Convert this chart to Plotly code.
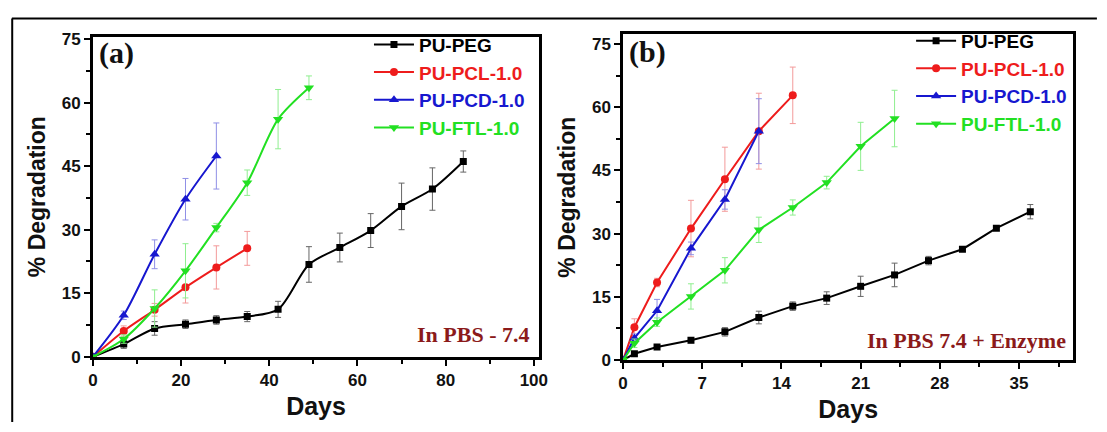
import plotly.graph_objects as go

# ---------------- Data: panel (a) In PBS - 7.4 ----------------
a_peg_x = [0, 7, 14, 21, 28, 35, 42, 49, 56, 63, 70, 77, 84]
a_peg_y = [0, 3.0, 6.7, 7.7, 8.7, 9.5, 11.2, 21.8, 25.8, 29.8, 35.5, 39.6, 46.1]
a_peg_e = [0, 1.0, 1.6, 1.0, 1.0, 1.2, 1.9, 4.2, 3.4, 4.0, 5.5, 5.0, 2.5]

a_pcl_x = [0, 7, 14, 21, 28, 35]
a_pcl_y = [0, 6.1, 11.1, 16.4, 21.1, 25.6]
a_pcl_e = [0, 1.2, 1.5, 3.7, 5.1, 4.0]

a_pcd_x = [0, 7, 14, 21, 28]
a_pcd_y = [0, 9.8, 24.2, 37.2, 47.4]
a_pcd_e = [0, 1.0, 3.4, 4.9, 7.8]

a_ftl_x = [0, 7, 14, 21, 28, 35, 42, 49]
a_ftl_y = [0, 4.2, 11.4, 20.3, 30.5, 41.1, 56.1, 63.5]
a_ftl_e = [0, 1.0, 4.4, 6.4, 1.0, 3.0, 7.0, 2.8]

# ---------------- Data: panel (b) In PBS 7.4 + Enzyme ----------------
b_peg_x = [0, 1, 3, 6, 9, 12, 15, 18, 21, 24, 27, 30, 33, 36]
b_peg_y = [0, 1.5, 3.1, 4.7, 6.7, 10.1, 12.8, 14.7, 17.5, 20.2, 23.6, 26.3, 31.3, 35.2]
b_peg_e = [0, 0.5, 0.6, 0.6, 1.0, 1.5, 1.0, 1.5, 2.4, 2.8, 1.0, 0.5, 0.5, 1.7]

b_pcl_x = [0, 1, 3, 6, 9, 12, 15]
b_pcl_y = [0, 7.8, 18.4, 31.2, 42.9, 54.3, 62.8]
b_pcl_e = [0, 2.0, 1.0, 6.7, 7.6, 9.0, 6.7]

b_pcd_x = [0, 1, 3, 6, 9, 12]
b_pcd_y = [0, 5.2, 11.7, 26.5, 38.1, 54.3]
b_pcd_e = [0, 1.0, 2.7, 1.5, 2.3, 7.7]

b_ftl_x = [0, 1, 3, 6, 9, 12, 15, 18, 21, 24]
b_ftl_y = [0, 4.0, 9.0, 15.1, 21.3, 30.9, 36.2, 42.1, 50.7, 57.3]
b_ftl_e = [0, 1.0, 1.0, 3.0, 3.0, 3.0, 1.8, 1.5, 5.7, 6.7]

names = ["PU-PEG", "PU-PCL-1.0", "PU-PCD-1.0", "PU-FTL-1.0"]
colors = ["#000000", "#ee1c1c", "#1717cf", "#22e022"]
err_colors = ["#666666", "#f39a9a", "#8f8fe6", "#8fee8f"]
symbols = ["square", "circle", "triangle-up", "triangle-down"]
msizes = [7, 8, 9, 9]

panel_a = [(a_peg_x, a_peg_y, a_peg_e), (a_pcl_x, a_pcl_y, a_pcl_e),
           (a_pcd_x, a_pcd_y, a_pcd_e), (a_ftl_x, a_ftl_y, a_ftl_e)]
panel_b = [(b_peg_x, b_peg_y, b_peg_e), (b_pcl_x, b_pcl_y, b_pcl_e),
           (b_pcd_x, b_pcd_y, b_pcd_e), (b_ftl_x, b_ftl_y, b_ftl_e)]

fig = go.Figure()

for i, (x, y, e) in enumerate(panel_a):
    fig.add_trace(go.Scatter(
        x=x, y=y, mode="lines+markers", xaxis="x", yaxis="y",
        name=f"<span style='color:{colors[i]}'>{names[i]}</span>",
        legend="legend",
        line=dict(color=colors[i], width=2, shape="spline", smoothing=0.8),
        marker=dict(color=colors[i], symbol=symbols[i], size=msizes[i]),
        error_y=dict(type="data", array=e, color=err_colors[i], thickness=1, width=3),
    ))

for i, (x, y, e) in enumerate(panel_b):
    fig.add_trace(go.Scatter(
        x=x, y=y, mode="lines+markers", xaxis="x2", yaxis="y2",
        name=f"<span style='color:{colors[i]}'>{names[i]}</span>",
        legend="legend2",
        line=dict(color=colors[i], width=2),
        marker=dict(color=colors[i], symbol=symbols[i], size=msizes[i]),
        error_y=dict(type="data", array=e, color=err_colors[i], thickness=1, width=3),
    ))

tickfont = dict(family="Liberation Sans, Arial", size=17, color="#111111", weight="bold")
xtitlefont = dict(family="Liberation Sans, Arial", size=25, color="#111111", weight="bold")
ytitlefont = dict(family="Liberation Sans, Arial", size=23, color="#111111", weight="bold")

def xaxis(domain, rng, dtick, anchor):
    return dict(domain=domain, range=rng, anchor=anchor, dtick=dtick, tick0=0,
                showgrid=False, zeroline=False, showline=True, linewidth=2.5,
                linecolor="black", mirror=True, ticks="outside", ticklen=6,
                tickwidth=2, tickcolor="black", tickfont=tickfont,
                minor=dict(ticks="outside", ticklen=4, tickwidth=2, tickcolor="black",
                           dtick=dtick / 2, showgrid=False),
                title=dict(text="Days", font=xtitlefont, standoff=9))

def yaxis(domain, rng, anchor):
    return dict(domain=domain, range=rng, anchor=anchor, dtick=15, tick0=0,
                showgrid=False, zeroline=False, showline=True, linewidth=2.5,
                linecolor="black", mirror=True, ticks="outside", ticklen=6,
                tickwidth=2, tickcolor="black", tickfont=tickfont,
                minor=dict(ticks="outside", ticklen=4, tickwidth=2, tickcolor="black",
                           dtick=7.5, showgrid=False),
                title=dict(text="% Degradation", font=ytitlefont, standoff=10))

legfont = dict(family="Liberation Sans, Arial", size=19, color="#111111", weight="bold")

fig.update_layout(
    width=1107, height=432, autosize=False,
    margin=dict(l=0, r=0, t=0, b=0),
    paper_bgcolor="white", plot_bgcolor="white",
    xaxis=xaxis([0.0804, 0.4887], [0, 101.2], 20, "y"),
    yaxis=yaxis([0.1567, 0.9266], [0, 75.6], "x"),
    xaxis2=xaxis([0.5655, 0.9774], [0, 39.8], 7, "y2"),
    yaxis2=yaxis([0.1488, 0.9322], [0, 77.3], "x2"),
    legend=dict(x=0.333, y=0.953, xanchor="left", yanchor="top",
                bgcolor="rgba(0,0,0,0)", font=legfont, itemwidth=40,
                tracegroupgap=0),
    legend2=dict(x=0.829, y=0.962, xanchor="left", yanchor="top",
                 bgcolor="rgba(0,0,0,0)", font=legfont, itemwidth=40,
                 tracegroupgap=0),
    font=dict(family="Liberation Sans, Arial"),
    annotations=[
        dict(text="<b>(a)</b>", x=0.0845, y=0.886, xref="paper", yref="paper",
             xanchor="left", yanchor="middle", showarrow=False,
             font=dict(family="Liberation Serif, Times New Roman", size=30, color="#111111")),
        dict(text="<b>(b)</b>", x=0.569, y=0.89, xref="paper", yref="paper",
             xanchor="left", yanchor="middle", showarrow=False,
             font=dict(family="Liberation Serif, Times New Roman", size=30, color="#111111")),
        dict(text="<b>In PBS - 7.4</b>", x=0.481, y=0.21, xref="paper", yref="paper",
             xanchor="right", yanchor="middle", showarrow=False,
             font=dict(family="Liberation Serif, Times New Roman", size=22, color="#8b1a1a")),
        dict(text="<b>In PBS 7.4 + Enzyme</b>", x=0.973, y=0.197, xref="paper", yref="paper",
             xanchor="right", yanchor="middle", showarrow=False,
             font=dict(family="Liberation Serif, Times New Roman", size=22, color="#8b1a1a")),
    ],
    shapes=[
        dict(type="line", xref="paper", yref="paper", x0=0.0063, x1=0.999,
             y0=0.9699, y1=0.9699, line=dict(color="black", width=2)),
        dict(type="line", xref="paper", yref="paper", x0=0.0066, x1=0.0066,
             y0=0.0, y1=0.9699, line=dict(color="black", width=2)),
    ],
)

fig.write_html("out.html", config={"displayModeBar": False},
               post_script="document.body.style.margin='0';")
